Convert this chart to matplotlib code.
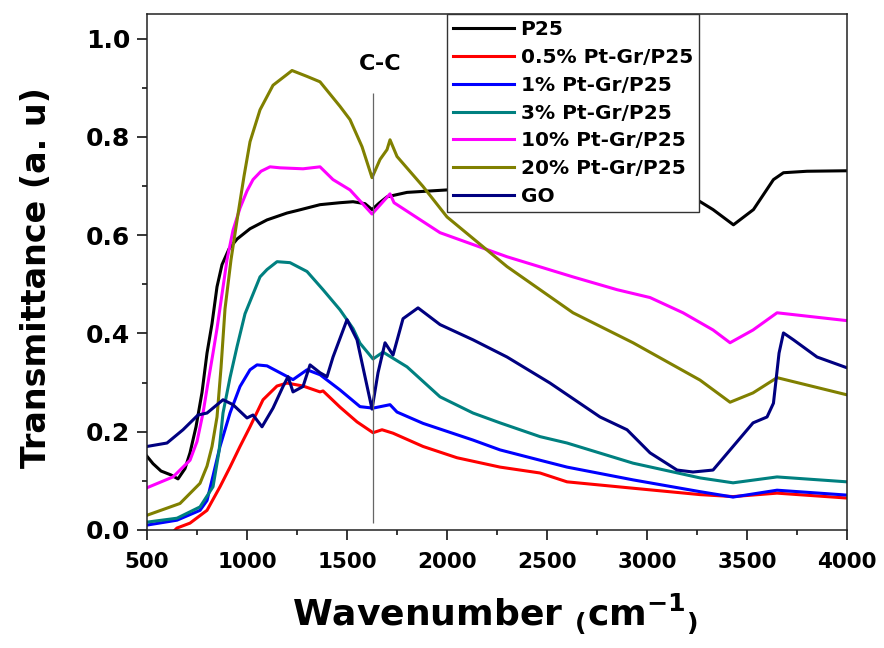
import matplotlib
matplotlib.use('Agg')
from matplotlib import pyplot as plt
from matplotlib.ticker import MultipleLocator

plt.rcParams['font.family'] = ['DejaVu Sans']
plt.rcParams['font.weight'] = 'bold'
plt.rcParams['axes.labelweight'] = 'bold'
plt.rcParams['mathtext.fontset'] = 'dejavusans'
plt.rcParams['mathtext.default'] = 'bf'

# spectra (wavenumber, transmittance)
p25_x = [500, 530, 570, 620, 655, 690, 715, 745, 775, 800, 825, 850, 875, 910, 950, 1015, 1100,
         1200, 1250, 1365, 1465, 1530, 1590, 1625, 1660, 1700, 1800, 2000, 2300, 2700, 3000,
         3230, 3330, 3432, 3532, 3632, 3682, 3800, 4000]
p25_y = [0.15, 0.135, 0.12, 0.112, 0.104, 0.125, 0.157, 0.21, 0.28, 0.36, 0.42, 0.495, 0.54,
         0.572, 0.592, 0.613, 0.631, 0.645, 0.65, 0.662, 0.666, 0.668, 0.664, 0.652, 0.665,
         0.678, 0.687, 0.692, 0.695, 0.694, 0.69, 0.677, 0.652, 0.621, 0.652, 0.713, 0.727,
         0.73, 0.731]

pt05_x = [640, 650, 715, 800, 865, 915, 965, 1015, 1080, 1150, 1200, 1280, 1365, 1380, 1465,
          1550, 1630, 1675, 1730, 1880, 2050, 2265, 2465, 2600, 2930, 3265, 3430, 3650, 4000]
pt05_y = [0.0, 0.004, 0.014, 0.04, 0.088, 0.128, 0.17, 0.21, 0.265, 0.293, 0.299, 0.293, 0.281,
          0.283, 0.25, 0.22, 0.198, 0.204, 0.197, 0.17, 0.147, 0.128, 0.116, 0.098, 0.085,
          0.072, 0.068, 0.075, 0.065]

pt1_x = [500, 650, 765, 800, 830, 865, 915, 965, 1015, 1050, 1100, 1165, 1230, 1300, 1365, 1465,
         1565, 1630, 1715, 1750, 1880, 2130, 2265, 2465, 2600, 2930, 3265, 3430, 3650, 4000]
pt1_y = [0.01, 0.02, 0.04, 0.06, 0.11, 0.17, 0.238, 0.292, 0.326, 0.336, 0.334, 0.32, 0.306,
         0.326, 0.316, 0.285, 0.251, 0.248, 0.255, 0.24, 0.217, 0.183, 0.163, 0.142, 0.128,
         0.102, 0.078, 0.067, 0.081, 0.071]

pt3_x = [500, 650, 765, 830, 860, 880, 915, 950, 990, 1030, 1065, 1100, 1150, 1215, 1300, 1380,
         1465, 1530, 1565, 1630, 1680, 1800, 1965, 2130, 2265, 2465, 2600, 2930, 3265, 3430,
         3650, 4000]
pt3_y = [0.016, 0.024, 0.047, 0.088, 0.16, 0.238, 0.31, 0.373, 0.44, 0.48, 0.515, 0.53, 0.546,
         0.544, 0.526, 0.489, 0.448, 0.41, 0.38, 0.348, 0.362, 0.332, 0.271, 0.238, 0.218,
         0.19, 0.177, 0.136, 0.106, 0.096, 0.108, 0.098]

pt10_x = [500, 630, 715, 750, 780, 805, 830, 850, 875, 900, 930, 965, 1000, 1030, 1070, 1115,
          1165, 1280, 1365, 1430, 1515, 1625, 1715, 1735, 1965, 2300, 2630, 2850, 3015, 3180,
          3330, 3415, 3530, 3650, 4000]
pt10_y = [0.086, 0.108, 0.142, 0.18, 0.238, 0.3, 0.36, 0.41, 0.48, 0.55, 0.61, 0.655, 0.69,
          0.713, 0.73, 0.739, 0.737, 0.735, 0.739, 0.713, 0.692, 0.643, 0.684, 0.666, 0.605,
          0.556, 0.515, 0.489, 0.473, 0.442, 0.407, 0.381, 0.407, 0.442, 0.426]

pt20_x = [500, 665, 765, 800, 825, 850, 870, 890, 920, 950, 985, 1015, 1065, 1130, 1200, 1225,
          1300, 1365, 1465, 1515, 1575, 1625, 1665, 1700, 1715, 1750, 1880, 2000, 2300, 2630,
          2930, 3265, 3415, 3530, 3650, 4000]
pt20_y = [0.03, 0.054, 0.095, 0.13, 0.17, 0.23, 0.33, 0.45, 0.55, 0.63, 0.72, 0.79, 0.855, 0.905,
          0.927, 0.935, 0.923, 0.912, 0.862, 0.835, 0.78, 0.717, 0.754, 0.774, 0.794, 0.76,
          0.699, 0.637, 0.536, 0.442, 0.381, 0.305, 0.26, 0.279, 0.31, 0.275]

go_x = [500, 600, 680, 755, 800, 880, 930, 1000, 1030, 1075, 1130, 1180, 1205, 1230, 1280,
        1315, 1365, 1400, 1430, 1500, 1550, 1625, 1655, 1690, 1730, 1780, 1855, 1965, 2130,
        2300, 2515, 2765, 2900, 3015, 3150, 3230, 3330, 3430, 3530, 3600, 3632, 3660, 3682,
        3732, 3850, 4000]
go_y = [0.17, 0.177, 0.204, 0.234, 0.238, 0.265, 0.255, 0.228, 0.234, 0.21, 0.248, 0.292,
        0.312, 0.281, 0.292, 0.336, 0.32, 0.312, 0.352, 0.428, 0.387, 0.246, 0.32, 0.381,
        0.356, 0.43, 0.452, 0.418, 0.387, 0.352, 0.299, 0.23, 0.204, 0.157, 0.122, 0.118,
        0.122, 0.17, 0.218, 0.23, 0.258, 0.36, 0.401, 0.387, 0.352, 0.33]

series = [
    ('P25', p25_x, p25_y, 'black'),
    ('0.5% Pt-Gr/P25', pt05_x, pt05_y, '#ff0000'),
    ('1% Pt-Gr/P25', pt1_x, pt1_y, '#0000ff'),
    ('3% Pt-Gr/P25', pt3_x, pt3_y, '#008080'),
    ('10% Pt-Gr/P25', pt10_x, pt10_y, '#ff00ff'),
    ('20% Pt-Gr/P25', pt20_x, pt20_y, '#808000'),
    ('GO', go_x, go_y, '#000080'),
]

cc_pos = 1630

fig = plt.figure(figsize=(8.84, 6.48), dpi=100)
ax = fig.add_axes([0.1663, 0.1821, 0.7919, 0.7963])

for name, xs, ys, col in series:
    ax.plot(xs, ys, color=col, lw=2.2, label=name, solid_joinstyle='round')

ax.vlines(cc_pos, 0.015, 0.89, color='#666666', lw=0.9)
ax.text(1665, 0.948, 'C-C', ha='center', va='center', fontsize=16, fontweight='bold')

ax.set_xlim(500, 4000)
ax.set_ylim(0, 1.05)
ax.xaxis.set_major_locator(MultipleLocator(500))
ax.xaxis.set_minor_locator(MultipleLocator(250))
ax.yaxis.set_major_locator(MultipleLocator(0.2))
ax.yaxis.set_minor_locator(MultipleLocator(0.1))
ax.yaxis.set_major_formatter(plt.FormatStrFormatter('%.1f'))
ax.tick_params(which='major', direction='out', length=7, width=1.1)
ax.tick_params(which='minor', direction='out', length=3.5, width=1.1)
ax.tick_params(axis='x', labelsize=15.5, pad=9)
ax.tick_params(axis='y', labelsize=18, pad=5)
for sp in ax.spines.values():
    sp.set_linewidth(1.1)
    sp.set_color('#222222')

ax.set_xlabel('Wavenumber $_{(}$cm$^{-1}$$_{)}$', fontsize=26)
ax.xaxis.set_label_coords(0.497, -0.118)
ax.set_ylabel('Transmittance (a. u)', fontsize=24)
ax.yaxis.set_label_coords(-0.135, 0.49)

leg = ax.legend(loc='upper left', bbox_to_anchor=(0.4286, 1.0), borderaxespad=0,
                fontsize=14.5, handlelength=3.0, handletextpad=0.35, labelspacing=0.44,
                borderpad=0.3, fancybox=False, framealpha=1, edgecolor='#333333')
leg.get_frame().set_linewidth(1.0)

fig.savefig('out.png', dpi=100)
